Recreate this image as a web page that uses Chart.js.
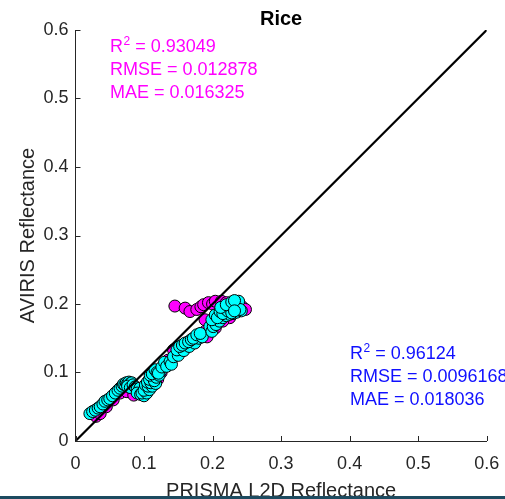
<!DOCTYPE html>
<html>
<head>
<meta charset="utf-8">
<script src="https://cdn.jsdelivr.net/npm/chart.js@4/dist/chart.umd.min.js"></script>
<style>
  html, body { margin: 0; padding: 0; background: #fff; }
  #wrap { position: relative; width: 505px; height: 499px; overflow: hidden; }
  #bar { position: absolute; left: 0; top: 496px; width: 505px; height: 3px; background: #1d4b60; }
</style>
</head>
<body>
<div id="wrap">
  <canvas id="c" width="505" height="499"></canvas>
  <div id="bar"></div>
</div>
<script>
const chartTitle = 'Rice';
const xAxisTitle = 'PRISMA L2D Reflectance';
const yAxisTitle = 'AVIRIS Reflectance';
const tickValues = [0, 0.1, 0.2, 0.3, 0.4, 0.5, 0.6];
const tickLabels = ['0', '0.1', '0.2', '0.3', '0.4', '0.5', '0.6'];

const magentaX = [0.030,0.036,0.045,0.055,0.065,0.075,0.085,0.092,0.100,0.110,0.120,0.125,0.135,0.143,0.150,0.160,0.170,0.180,0.189,0.192,0.200,0.204,0.189,0.145,0.160,0.167,0.177,0.183,0.187,0.194,0.200,0.204,0.213,0.220,0.228,0.236,0.243,0.248,0.225,0.215];
const magentaY = [0.036,0.040,0.050,0.060,0.070,0.072,0.067,0.072,0.078,0.085,0.090,0.100,0.118,0.133,0.135,0.140,0.148,0.155,0.160,0.152,0.170,0.165,0.177,0.197,0.194,0.189,0.192,0.196,0.199,0.202,0.200,0.204,0.204,0.202,0.200,0.198,0.196,0.192,0.180,0.175];

const cyanX = [0.021,0.025,0.029,0.033,0.036,0.040,0.043,0.047,0.050,0.054,0.058,0.062,0.065,0.068,0.070,0.072,0.074,0.076,0.078,0.080,0.082,0.076,0.080,0.084,0.087,0.090,0.094,0.090,0.095,0.100,0.097,0.104,0.100,0.108,0.102,0.106,0.112,0.105,0.110,0.108,0.117,0.115,0.109,0.118,0.112,0.122,0.116,0.124,0.119,0.121,0.126,0.130,0.133,0.138,0.140,0.143,0.150,0.148,0.158,0.152,0.166,0.156,0.160,0.174,0.165,0.169,0.180,0.172,0.177,0.185,0.182,0.196,0.199,0.201,0.205,0.210,0.199,0.215,0.204,0.220,0.207,0.225,0.211,0.230,0.215,0.235,0.218,0.242,0.222,0.212,0.226,0.228,0.220,0.233,0.236,0.228,0.238,0.240,0.232,0.232];
const cyanY = [0.040,0.043,0.045,0.048,0.050,0.054,0.058,0.060,0.062,0.066,0.070,0.074,0.077,0.080,0.083,0.082,0.085,0.084,0.086,0.084,0.085,0.080,0.078,0.082,0.079,0.076,0.077,0.070,0.068,0.066,0.070,0.070,0.074,0.075,0.082,0.080,0.080,0.086,0.085,0.090,0.084,0.088,0.096,0.093,0.098,0.096,0.104,0.102,0.100,0.099,0.108,0.115,0.109,0.116,0.112,0.123,0.125,0.133,0.132,0.138,0.138,0.140,0.143,0.143,0.145,0.148,0.150,0.150,0.155,0.152,0.157,0.167,0.160,0.167,0.170,0.175,0.177,0.180,0.184,0.183,0.180,0.185,0.189,0.186,0.186,0.188,0.194,0.190,0.190,0.195,0.199,0.187,0.199,0.201,0.195,0.203,0.204,0.192,0.205,0.190];

const diagX = [0, 0.6];
const diagY = [0, 0.6];

const magentaStats = ['R', '2', ' = 0.93049', 'RMSE = 0.012878', 'MAE = 0.016325'];
const blueStats = ['R', '2', ' = 0.96124', 'RMSE = 0.0096168', 'MAE = 0.018036'];

const toPts = (xs, ys) => xs.map((x, i) => ({ x: x, y: ys[i] }));

const FONT = '"Liberation Sans", Arial, Helvetica, sans-serif';
const AXIS_COLOR = '#262626';

const decorPlugin = {
  id: 'decor',
  afterDraw(chart) {
    const ctx = chart.ctx;
    const xs = chart.scales.x, ys = chart.scales.y;
    const ca = chart.chartArea;
    ctx.save();
    ctx.strokeStyle = AXIS_COLOR;
    ctx.lineWidth = 1;
    ctx.beginPath();
    tickValues.forEach(v => {
      const px = Math.round(xs.getPixelForValue(v)) + 0.5;
      ctx.moveTo(px, ca.bottom);
      ctx.lineTo(px, ca.bottom - 5);
      const py = Math.round(ys.getPixelForValue(v)) + 0.5;
      ctx.moveTo(ca.left, py);
      ctx.lineTo(ca.left + 5, py);
    });
    ctx.stroke();
    ctx.fillStyle = '#000';
    ctx.font = 'bold 20px ' + FONT;
    ctx.textAlign = 'center';
    ctx.textBaseline = 'alphabetic';
    ctx.fillText(chartTitle, (ca.left + ca.right) / 2, 25);
    const drawStats = (lines, color, x, y0) => {
      ctx.fillStyle = color;
      ctx.textAlign = 'left';
      ctx.font = '18px ' + FONT;
      ctx.fillText(lines[0], x, y0);
      const wR = ctx.measureText(lines[0]).width;
      ctx.font = '12px ' + FONT;
      ctx.fillText(lines[1], x + wR + 0.5, y0 - 7);
      const w2 = ctx.measureText(lines[1]).width;
      ctx.font = '18px ' + FONT;
      ctx.fillText(lines[2], x + wR + w2 + 0.5, y0);
      ctx.fillText(lines[3], x, y0 + 23);
      ctx.fillText(lines[4], x, y0 + 46);
    };
    drawStats(magentaStats, '#ff00ff', 110, 52);
    drawStats(blueStats, '#1010ff', 350, 359);
    ctx.restore();
  }
};

new Chart(document.getElementById('c'), {
  type: 'scatter',
  data: {
    datasets: [
      {
        label: 'diagonal',
        type: 'line',
        data: toPts(diagX, diagY),
        borderColor: '#000',
        borderWidth: 2.2,
        pointRadius: 0,
        fill: false,
        order: 0
      },
      {
        label: 'cyan',
        data: toPts(cyanX, cyanY),
        backgroundColor: '#00ffff',
        borderColor: '#000',
        borderWidth: 1,
        pointRadius: 6,
        order: 1
      },
      {
        label: 'magenta',
        data: toPts(magentaX, magentaY),
        backgroundColor: '#ff00ff',
        borderColor: '#000',
        borderWidth: 1,
        pointRadius: 6,
        order: 2
      }
    ]
  },
  options: {
    responsive: false,
    animation: false,
    events: [],
    layout: { padding: { top: 30, right: 18.3, bottom: 0, left: 0 } },
    plugins: {
      legend: { display: false },
      title: { display: false },
      tooltip: { enabled: false }
    },
    scales: {
      x: {
        type: 'linear',
        min: 0, max: 0.6,
        afterFit(s) { s.height = 58; s.paddingLeft = 0; s.paddingRight = 0; },
        afterBuildTicks(s) { s.ticks = tickValues.map(v => ({ value: v })); },
        grid: { display: true, drawOnChartArea: false, drawTicks: false },
        border: { display: true, color: AXIS_COLOR, width: 1 },
        ticks: {
          color: AXIS_COLOR,
          font: { family: FONT, size: 18 },
          padding: 12,
          maxRotation: 0,
          callback: (v, i) => tickLabels[i]
        },
        title: {
          display: true,
          text: xAxisTitle,
          color: AXIS_COLOR,
          font: { family: FONT, size: 20, lineHeight: 0.8 },
          padding: { top: 0, bottom: 0 }
        }
      },
      y: {
        type: 'linear',
        min: 0, max: 0.6,
        afterFit(s) { s.width = 75.5; s.paddingTop = 0; s.paddingBottom = 0; },
        afterBuildTicks(s) { s.ticks = tickValues.map(v => ({ value: v })); },
        grid: { display: true, drawOnChartArea: false, drawTicks: false },
        border: { display: true, color: AXIS_COLOR, width: 1 },
        ticks: {
          color: AXIS_COLOR,
          font: { family: FONT, size: 18 },
          padding: 7,
          callback: (v, i) => tickLabels[i]
        },
        title: {
          display: true,
          text: yAxisTitle,
          color: AXIS_COLOR,
          font: { family: FONT, size: 20, lineHeight: 1.2 },
          padding: { top: 16, bottom: 0 }
        }
      }
    }
  },
  plugins: [decorPlugin]
});
</script>
</body>
</html>
